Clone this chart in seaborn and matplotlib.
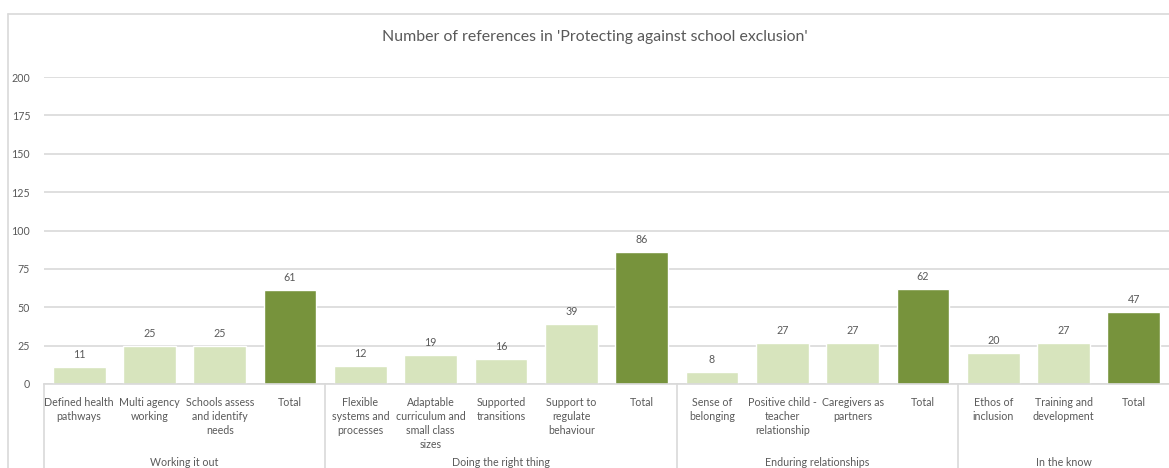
import numpy as np
import pandas as pd
import matplotlib
matplotlib.use("Agg")
import matplotlib.pyplot as plt
from matplotlib.lines import Line2D
import matplotlib.transforms as mtransforms
import seaborn as sns

# ---- data -------------------------------------------------------------
groups = ["Working it out", "Doing the right thing",
          "Enduring relationships", "In the know"]
group_sizes = [4, 5, 4, 3]

sub_labels = [
    "Defined health\npathways", "Multi agency\nworking",
    "Schools assess\nand identify\nneeds", "Total",
    "Flexible\nsystems and\nprocesses", "Adaptable\ncurriculum and\nsmall class\nsizes",
    "Supported\ntransitions", "Support to\nregulate\nbehaviour", "Total",
    "Sense of\nbelonging", "Positive child -\nteacher\nrelationship",
    "Caregivers as\npartners", "Total",
    "Ethos of\ninclusion", "Training and\ndevelopment", "Total",
]
values = [11, 25, 25, 61,
          12, 19, 16, 39, 86,
          8, 27, 27, 62,
          20, 27, 47]
y_ticks = [0, 25, 50, 75, 100, 125, 150, 175, 200]
title = "Number of references in 'Protecting against school exclusion'"

# ---- styling ----------------------------------------------------------
LIGHT = "#D7E4BD"
DARK = "#77933C"
TEXT = "#595959"
GRID = "#D9D9D9"
FS = 7.7

sns.set_theme(style="white")
plt.rcParams["font.family"] = ["Lato", "DejaVu Sans"]

group_col = np.repeat(groups, group_sizes)
df = pd.DataFrame({
    "key": [f"{g}|{i}" for i, g in enumerate(group_col)],
    "value": values,
    "kind": ["Total" if s == "Total" else "Theme" for s in sub_labels],
})

W, H = 1169, 468
fig = plt.figure(figsize=(W / 100, H / 100), dpi=100)
ax = fig.add_axes([44 / W, (H - 384) / H, (W - 44) / W, (384 - 77) / H])

sns.barplot(data=df, x="key", y="value", hue="kind", dodge=False,
            palette={"Theme": LIGHT, "Total": DARK}, width=0.75,
            legend=False, ax=ax, saturation=1)

ax.set_ylim(0, 200)
ax.set_xlim(-0.5, len(values) - 0.5)
ax.set_yticks(y_ticks)
ax.yaxis.grid(True, color=GRID, linewidth=1.2)
ax.set_axisbelow(True)
for sp in ["top", "right", "left"]:
    ax.spines[sp].set_visible(False)
ax.spines["bottom"].set_color(GRID)
ax.spines["bottom"].set_linewidth(1.2)
ax.set_xlabel("")
ax.set_ylabel("")
ax.tick_params(axis="y", length=0, pad=10, labelsize=FS, labelcolor=TEXT)
ax.set_xticks(range(len(values)))
ax.set_xticklabels(sub_labels, fontsize=FS, color=TEXT, linespacing=1.35,
                   va="top", ha="center")
ax.tick_params(axis="x", length=0, pad=9)

# value labels above bars
for container in ax.containers:
    ax.bar_label(container, fmt="%d", padding=5, fontsize=FS, color=TEXT)

# group separators and group names below the category labels
trans = mtransforms.blended_transform_factory(ax.transData, ax.transAxes)
bounds = np.concatenate([[0], np.cumsum(group_sizes)]) - 0.5
for b in bounds[:-1]:
    ax.add_line(Line2D([b, b], [0, -0.5], transform=trans, color=GRID,
                       linewidth=1.2, clip_on=False))
group_trans = mtransforms.blended_transform_factory(ax.transData,
                                                    fig.transFigure)
for g, lo, hi in zip(groups, bounds[:-1], bounds[1:]):
    fig.text((lo + hi) / 2, (H - 463) / H, g, fontsize=FS, color=TEXT,
             ha="center", va="center", transform=group_trans)

# chart frame
fig.add_artist(Line2D([8 / W, 8 / W], [0, (H - 14) / H], color=GRID,
                      linewidth=1.2, transform=fig.transFigure))
fig.add_artist(Line2D([8 / W, 1], [(H - 14) / H, (H - 14) / H], color=GRID,
                      linewidth=1.2, transform=fig.transFigure))

fig.text(595 / W, (H - 37) / H, title, fontsize=11.4, color=TEXT,
         ha="center", va="center")

fig.savefig("out.png", dpi=100, facecolor="white")
